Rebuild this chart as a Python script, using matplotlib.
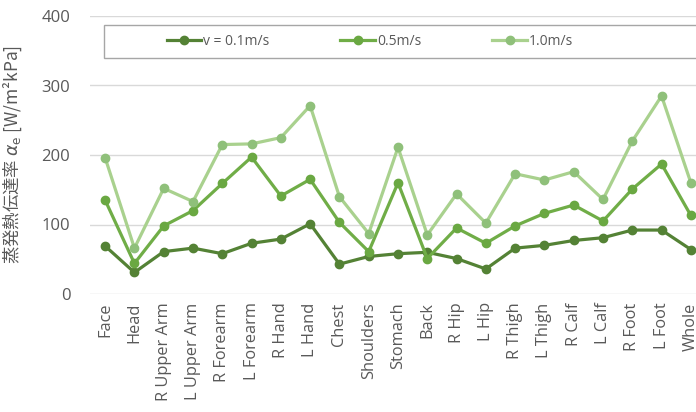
import matplotlib.pyplot as plt
from matplotlib.patches import Rectangle

# data
parts = ['Face', 'Head', 'R Upper Arm', 'L Upper Arm', 'R Forearm', 'L Forearm',
         'R Hand', 'L Hand', 'Chest', 'Shoulders', 'Stomach', 'Back', 'R Hip',
         'L Hip', 'R Thigh', 'L Thigh', 'R Calf', 'L Calf', 'R Foot', 'L Foot', 'Whole']
v01 = [69, 31, 61, 66, 58, 73, 79, 101, 43, 54, 58, 60, 51, 36, 66, 70, 77, 81, 92, 92, 64]
v05 = [135, 44, 98, 120, 159, 197, 141, 165, 103, 61, 160, 51, 95, 73, 98, 116, 128, 105, 151, 187, 113]
v10 = [196, 66, 152, 133, 215, 216, 225, 271, 140, 87, 211, 85, 144, 102, 173, 164, 176, 136, 220, 285, 160]
series_names = ['v = 0.1m/s', '0.5m/s', '1.0m/s']

W, H = 696, 412
fig = plt.figure(figsize=(W / 100, H / 100), dpi=100)
# plot area runs past the right edge, like the cropped original
ax = fig.add_axes([90.5 / W, (H - 294) / H, 615 / W, 278 / H])

text_col = '#595959'
x = range(len(parts))
styles = [('#548235', '#548235'), ('#70AD47', '#6AA842'), ('#A9D18E', '#8FC07A')]
lines = []
for vals, name, (lc, mc) in zip([v01, v05, v10], series_names, styles):
    ln, = ax.plot(x, vals, '-o', color=lc, mfc=mc, mec=mc, lw=2.3, ms=6, label=name, zorder=3)
    lines.append(ln)

ax.set_xlim(-0.5, len(parts) - 0.5)
ax.set_ylim(0, 400)
ax.set_yticks([0, 100, 200, 300, 400])
ax.grid(axis='y', color='#D9D9D9', lw=1)
ax.set_axisbelow(True)
for s in ax.spines.values():
    s.set_visible(False)
ax.tick_params(length=0, colors=text_col)
ax.tick_params(axis='y', pad=14.5, labelsize=12)
for t in ax.get_yticklabels():
    t.set_family('Open Sans')
ax.set_xticks(list(x))
ax.set_xticklabels(parts, rotation=90, fontsize=11.8, family='Open Sans')
ax.tick_params(axis='x', pad=6)

ax.set_ylabel('蒸発熱伝達率 $\\alpha_\\mathrm{e}$ [W/m²kPa]', fontsize=12.5, color=text_col,
              family=['Noto Sans CJK JP', 'DejaVu Sans'])
ax.yaxis.set_label_coords((24 - 90.5) / 615, 0.5)

# legend frame drawn separately, legend entries centred inside it
fig.patches.append(Rectangle((104 / W, (H - 58) / H), 610 / W, 33 / H, transform=fig.transFigure,
                             fill=True, fc='white', ec='#A6A6A6', lw=1, zorder=5))
leg = fig.legend(handles=lines, loc='center', bbox_to_anchor=(370 / W, (H - 41.5) / H),
                 ncol=3, frameon=False, handlelength=2.5, handletextpad=0.15,
                 columnspacing=5.1, labelcolor=text_col, prop={'family': 'Open Sans', 'size': 10})
leg.set_zorder(6)

fig.savefig('out.png', dpi=100)
